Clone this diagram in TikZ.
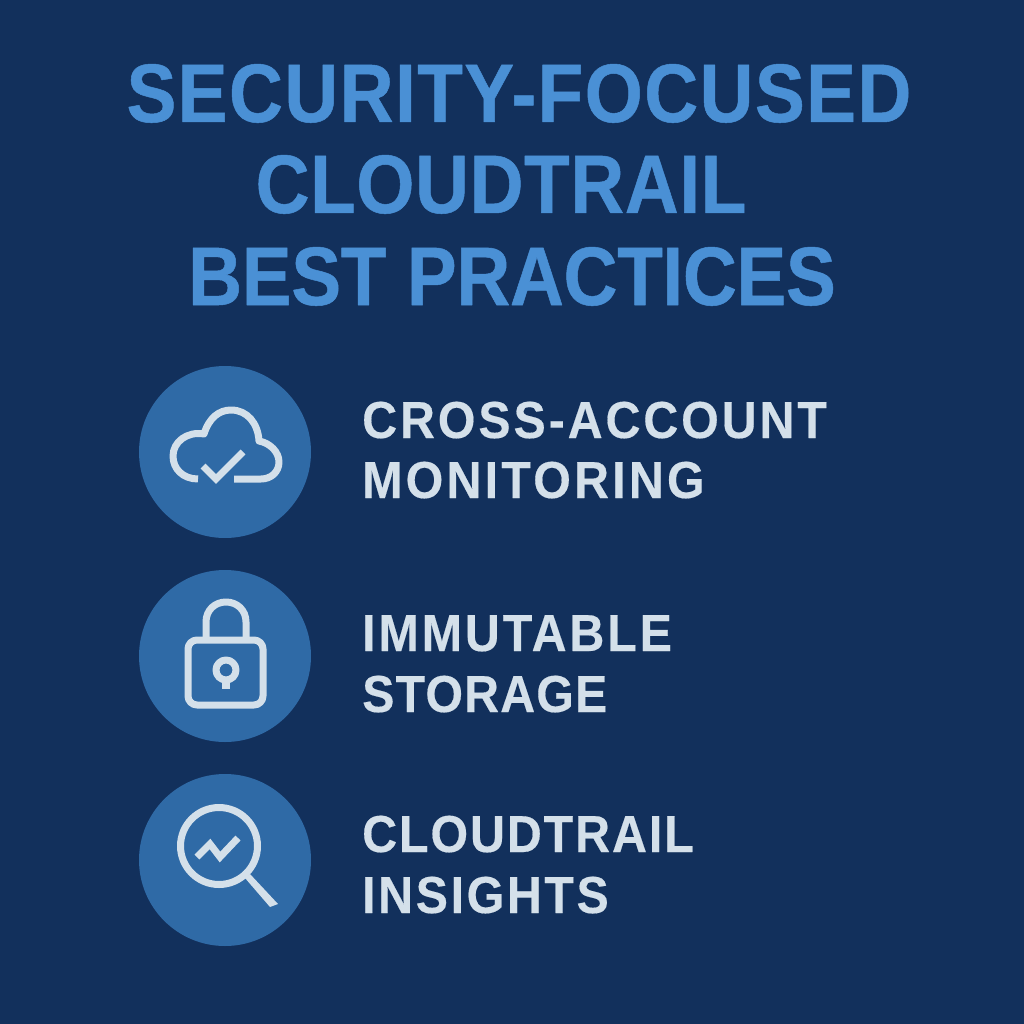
\documentclass[tikz,border=0pt]{standalone}
\usepackage{fontspec}
\setmainfont{Liberation Sans}
\newfontfamily\titlefont[FakeStretch=0.90,BoldFeatures={FakeBold=0.6}]{Liberation Sans}
\newfontfamily\itemfont[FakeStretch=0.93,BoldFeatures={FakeBold=0.3}]{Liberation Sans}
\newcommand{\tracked}[1]{\addfontfeature{LetterSpace=#1}}
\definecolor{ctnavy}{HTML}{12305C}
\definecolor{ctblue}{HTML}{4A90D5}
\definecolor{ctdisc}{HTML}{2F6AA6}
\definecolor{ctpale}{HTML}{D4E0EA}
\begin{document}
\begin{tikzpicture}[x=1pt,y=-1pt,
        every path/.style={line join=round},
        heading/.style={inner sep=0pt, anchor=base, text=ctblue, font=\titlefont\fontsize{83}{83}\selectfont\bfseries},
        itemtext/.style={inner sep=0pt, anchor=base west, text=ctpale, font=\itemfont\fontsize{52}{52}\selectfont\bfseries},
        badge/.style={circle, fill=ctdisc, minimum size=172pt, inner sep=0pt},
        glyph/.style={draw=ctpale, line width=7pt}]
        \fill[ctnavy] (0,0) rectangle (1024,1024);
        \useasboundingbox (0,0) rectangle (1024,1024);
        \node[heading] (title1) at (519,122) {\tracked{1.7}SECURITY-FOCUSED};
        \node[heading] (title2) at (501,213) {\tracked{0.7}CLOUDTRAIL};
        \node[heading] (title3) at (512,305) {\tracked{-0.4}BEST PRACTICES};
        \node[badge] (cloud) at (225,452) {};
        \node[badge] (lock) at (225,656) {};
        \node[badge] (lens) at (225,860) {};
        \node[itemtext] (cross) at (362,438) {\tracked{5.6}CROSS-ACCOUNT};
        \node[itemtext] (monitor) at (362,498) {\tracked{6.2}MONITORING};
        \node[itemtext] (immut) at (362,651) {\tracked{5.6}IMMUTABLE};
        \node[itemtext] (store) at (362,712) {\tracked{2.2}STORAGE};
        \node[itemtext] (trail) at (362,852) {\tracked{3.7}CLOUDTRAIL};
        \node[itemtext] (insight) at (362,913) {\tracked{5.0}INSIGHTS};
        % cloud with tick
        \draw[glyph] (198,479) .. controls (183,479) and (173,469) .. (173,456)
            .. controls (173,442) and (187,431) .. (204,434)
            .. controls (209,418) and (219,410) .. (231,410)
            .. controls (247,410) and (258,423) .. (259,441)
            .. controls (270,443) and (279,452) .. (279,462)
            .. controls (279,472) and (271,479) .. (261,479) -- (234,479);
        \draw[glyph, line join=miter] (203,466) -- (216,479) -- (243,452);
        % padlock
        \draw[glyph] (206,638) -- (206,622) .. controls (206,610) and (215,602) .. (226,602)
            .. controls (237,602) and (246,610) .. (246,622) -- (246,638);
        \draw[glyph, rounded corners=9pt] (188,640) rectangle (263,705);
        \draw[glyph] (226,670) circle (10pt);
        \draw[glyph, line width=8pt] (226,681) -- (226,689);
        % magnifier with trend line
        \draw[glyph] (219,846) circle (38.5pt);
        \fill[ctpale] (245,878) -- (250,874) -- (278,904) -- (270,907) -- cycle;
        \draw[glyph, line join=miter] (197,857) -- (210,844) -- (220,857) -- (238,838);
    \end{tikzpicture}
\end{document}
